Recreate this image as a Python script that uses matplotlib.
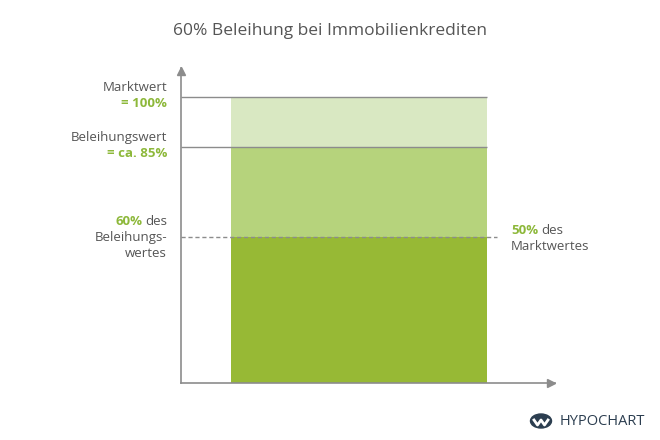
import numpy as np
import matplotlib
matplotlib.use('Agg')
import matplotlib.pyplot as plt
from matplotlib.patches import Circle
import matplotlib.transforms as mtransforms

plt.rcParams['font.family'] = ['Open Sans', 'DejaVu Sans']

# values (percent of market value), stacked from the bottom
segment_names = ['Darlehen', 'Beleihungswert', 'Marktwert']
segment_tops = [51, 82.5, 100]
segment_colors = ['#97b935', '#b6d37c', '#d9e8c2']

title = '60% Beleihung bei Immobilienkrediten'
grey = '#555555'
green = '#8db83a'
axis_grey = '#8c8c8c'

fig = plt.figure(figsize=(6.6, 4.4), dpi=100)
ax = fig.add_axes([181 / 660, 57 / 440, 374 / 660, 315 / 440])
ax.set_xlim(0, 1)
ax.set_ylim(0, 110)

# stacked bar
bar_left, bar_right = 50 / 374, 306 / 374
bottom = 0
for top, col in zip(segment_tops, segment_colors):
    ax.bar((bar_left + bar_right) / 2, top - bottom, bottom=bottom,
           width=bar_right - bar_left, color=col, zorder=1)
    bottom = top

# reference lines
ax.hlines([segment_tops[2], segment_tops[1]], 0, bar_right, color=axis_grey, lw=1, zorder=2)
ax.hlines(segment_tops[0], 0, 316 / 374, color=axis_grey, lw=1, linestyles=(0, (3, 2)), zorder=2)

# axes with arrows
for s in ['top', 'right']:
    ax.spines[s].set_visible(False)
for s in ['left', 'bottom']:
    ax.spines[s].set_color(axis_grey)
    ax.spines[s].set_linewidth(1.2)
ax.set_xticks([])
ax.set_yticks([])
ax.plot(0.99, 0, marker='>', color=axis_grey, ms=6, clip_on=False, transform=ax.transAxes)
ax.plot(0, 0.99, marker='^', color=axis_grey, ms=6, clip_on=False, transform=ax.transAxes)

tr = ax.get_yaxis_transform()
lx = -14 / 374
fs = 9.5

ax.text(lx, segment_tops[2] + 3.1, 'Marktwert', ha='right', va='center', fontsize=fs, color=grey, transform=tr)
ax.text(lx, segment_tops[2] - 2.5, '= 100%', ha='right', va='center', fontsize=fs, color=green,
        fontweight='bold', transform=tr)
ax.text(lx, segment_tops[1] + 3.2, 'Beleihungswert', ha='right', va='center', fontsize=fs, color=grey, transform=tr)
ax.text(lx, segment_tops[1] - 2.4, '= ca. 85%', ha='right', va='center', fontsize=fs, color=green,
        fontweight='bold', transform=tr)

t_des = ax.text(lx, segment_tops[0] + 5.3, 'des', ha='right', va='center', fontsize=fs, color=grey, transform=tr)
ax.text(lx, segment_tops[0] - 0.3, 'Beleihungs-', ha='right', va='center', fontsize=fs, color=grey, transform=tr)
ax.text(lx, segment_tops[0] - 5.9, 'wertes', ha='right', va='center', fontsize=fs, color=grey, transform=tr)

rx = 330 / 374
t50 = ax.text(rx, segment_tops[0] + 2.1, '50%', ha='left', va='center', fontsize=fs, color=green,
              fontweight='bold', transform=tr)
ax.text(rx, segment_tops[0] - 3.4, 'Marktwertes', ha='left', va='center', fontsize=fs, color=grey, transform=tr)

fig.canvas.draw()
r = fig.canvas.get_renderer()
w_des = t_des.get_window_extent(r).width
ax.text(lx, segment_tops[0] + 5.3, '60%', ha='right', va='center', fontsize=fs, color=green, fontweight='bold',
        transform=tr + mtransforms.ScaledTranslation(-(w_des + 3) / 100, 0, fig.dpi_scale_trans))
w50 = t50.get_window_extent(r).width
ax.text(rx, segment_tops[0] + 2.1, 'des', ha='left', va='center', fontsize=fs, color=grey,
        transform=tr + mtransforms.ScaledTranslation((w50 + 3) / 100, 0, fig.dpi_scale_trans))

fig.text(0.5, 1 - 31 / 440, title, ha='center', va='center', fontsize=12.5, color=grey)

# logo
navy = '#2c3e50'
fig.patches.append(Circle((541 / 660, 1 - 421 / 440), 10.5 / 660, transform=fig.transFigure,
                          color=navy, zorder=5))
wx = np.array([-7, -3.5, 0, 3.5, 7]) / 660 + 541 / 660
wy = 1 - (np.array([420, 425, 420, 425, 420])) / 440
fig.lines.append(plt.Line2D(wx, wy, transform=fig.transFigure, color='white', lw=2, zorder=6))
fig.text(560 / 660, 1 - 421 / 440, 'HYPOCHART', ha='left', va='center', fontsize=10.5, color=navy)

fig.savefig('out.png', dpi=100)
